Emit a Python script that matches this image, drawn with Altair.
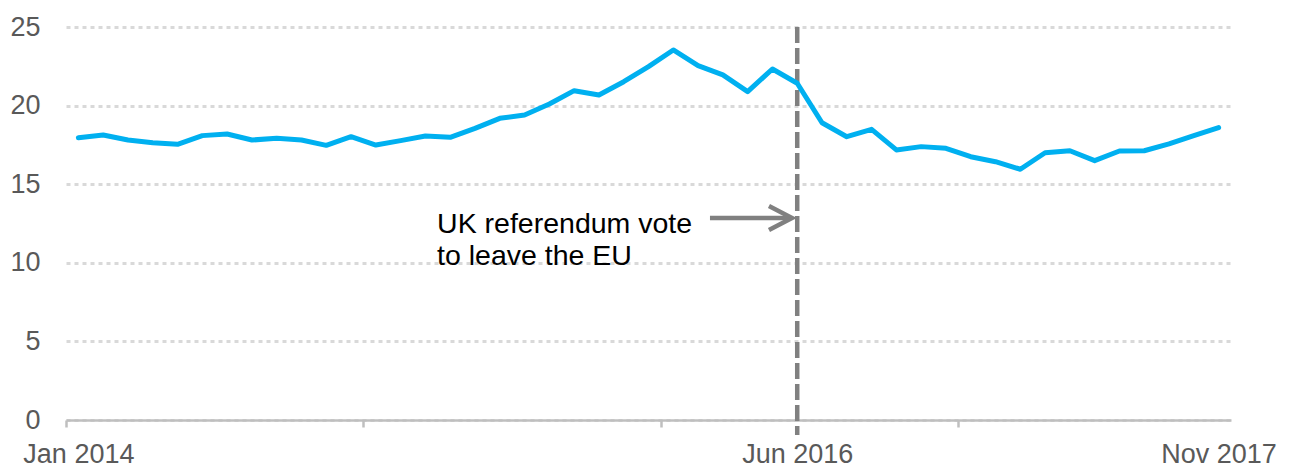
import altair as alt
import pandas as pd

# Monthly values, Jan 2014 .. Nov 2017 (47 months)
months = pd.date_range("2014-01-01", "2017-11-01", freq="MS").strftime("%b %Y").tolist()
values = [
    17.96, 18.13, 17.81, 17.64, 17.54, 18.09, 18.19, 17.81, 17.92, 17.81,
    17.47, 18.02, 17.49, 17.77, 18.07, 17.98, 18.55, 19.19, 19.40, 20.10,
    20.95, 20.67, 21.52, 22.48, 23.54, 22.54, 21.95, 20.89, 22.33, 21.42,
    18.91, 18.02, 18.49, 17.18, 17.39, 17.28, 16.75, 16.43, 15.95, 17.00,
    17.13, 16.50, 17.11, 17.13, 17.56, 18.09, 18.60,
]
labelled_months = ["Jan 2014", "Jun 2016", "Nov 2017"]
y_ticks = [0, 5, 10, 15, 20, 25]
event_month = "Jun 2016"
annotation_lines = ["UK referendum vote", "to leave the EU"]

idx = list(range(len(months)))
df = pd.DataFrame({"i": idx, "month": months, "value": values})
event_i = months.index(event_month)

label_idx = [months.index(m) for m in labelled_months]
tick_between = [-0.5, 11.5, 23.5, 35.5]
label_expr = " : ".join(
    f"datum.value == {i} ? '{m}'" for i, m in zip(label_idx, labelled_months)
) + " : ''"

LABEL_FONT = "Liberation Sans"
xscale = alt.Scale(domain=[-0.5, len(months) - 0.5], nice=False, zero=False)
yscale = alt.Scale(domain=[0, 25], nice=False)

x_axis = alt.Axis(
    values=sorted(tick_between + label_idx),
    labelExpr=label_expr,
    title=None,
    grid=False,
    domainColor="#bfbfbf",
    domainWidth=2.5,
    tickColor="#bfbfbf",
    tickWidth=2.5,
    tickSize=7,
    tickOpacity={"condition": {"test": "datum.value % 1 !== 0", "value": 1}, "value": 0},
    labelFont=LABEL_FONT,
    labelFontSize=27,
    labelColor="#595959",
    labelPadding=14,
    labelOverlap=False,
    labelFlush=False,
    labelBound=False,
)
y_axis = alt.Axis(
    values=y_ticks,
    title=None,
    domain=False,
    ticks=False,
    grid=True,
    gridColor="#d9d9d9",
    gridDash=[4, 4],
    gridWidth=3,
    labelFont=LABEL_FONT,
    labelFontSize=27,
    labelColor="#595959",
    labelPadding=26,
)

line = alt.Chart(df).mark_line(
    color="#00b0f0", strokeWidth=5, strokeCap="round", strokeJoin="round"
).encode(
    x=alt.X("i:Q", scale=xscale, axis=x_axis),
    y=alt.Y("value:Q", scale=yscale, axis=y_axis),
)

vline = alt.Chart(pd.DataFrame({"i": [event_i]})).mark_rule(
    color="#808080", strokeWidth=4.5, strokeDash=[16, 5]
).encode(
    x=alt.X("i:Q", scale=xscale),
    y=alt.value(0),
    y2=alt.value(408),
)

# annotation text (data coordinates)
ann_df = pd.DataFrame({"x": [14.47, 14.47], "y": [11.9, 9.86], "t": annotation_lines})
ann = alt.Chart(ann_df).mark_text(
    align="left", baseline="alphabetic", font=LABEL_FONT, fontSize=28.5, color="#000000"
).encode(
    x=alt.X("x:Q", scale=xscale),
    y=alt.Y("y:Q", scale=yscale),
    text="t:N",
)

# arrow shaft
shaft_df = pd.DataFrame({"x": [25.48], "x2": [28.75], "y": [12.85]})
shaft = alt.Chart(shaft_df).mark_rule(color="#808080", strokeWidth=4.5).encode(
    x=alt.X("x:Q", scale=xscale),
    x2="x2:Q",
    y=alt.Y("y:Q", scale=yscale),
)
# arrow head (open chevron)
head_df = pd.DataFrame({"x": [27.86, 28.79, 27.86], "y": [13.61, 12.85, 12.09], "o": [0, 1, 2]})
head = alt.Chart(head_df).mark_line(
    color="#808080", strokeWidth=4.5, strokeJoin="miter"
).encode(
    x=alt.X("x:Q", scale=xscale),
    y=alt.Y("y:Q", scale=yscale),
    order="o:Q",
)

chart = alt.layer(vline, line, ann, shaft, head).properties(
    width=1165,
    height=393,
    autosize=alt.AutoSizeParams(type="none"),
    padding={"left": 66, "top": 27, "right": 61, "bottom": 51},
    background="white",
).configure_view(stroke=None)

chart.save("out.html", embed_options={"renderer": "svg", "actions": False})
